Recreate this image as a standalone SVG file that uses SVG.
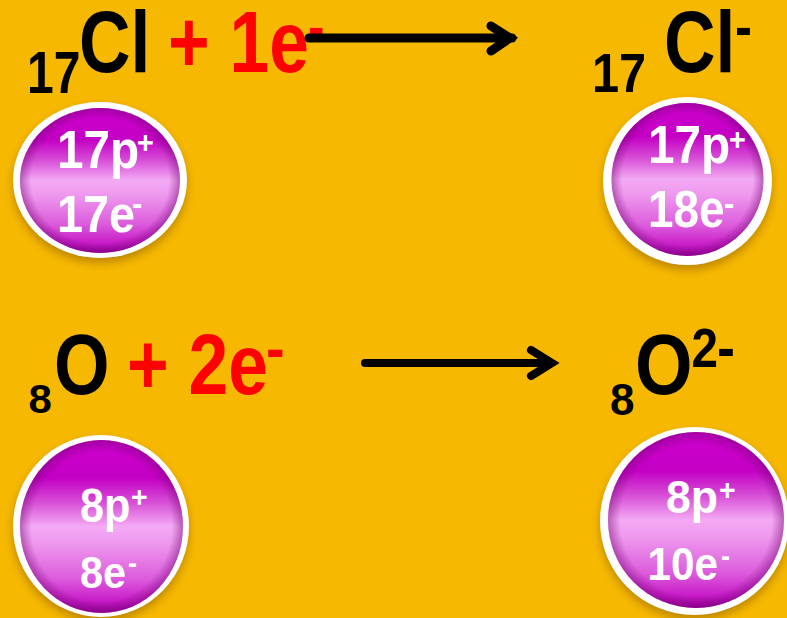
<svg xmlns="http://www.w3.org/2000/svg" width="787" height="618" viewBox="0 0 787 618">
<defs>
<style>
.t{font-family:"Liberation Sans",Arial,sans-serif;font-weight:bold}
.k{fill:#000}
.r{fill:#ff0000}
.w{fill:#fff}
.ring{fill:#fff}
.ball{fill:url(#mag)}
.vig{fill:url(#edge)}
.sh{fill:#7a4e00;opacity:0.45;filter:url(#blur)}
.arr{stroke:#000;fill:none;stroke-linecap:round;stroke-linejoin:miter}
</style>
<linearGradient id="mag" x1="0" y1="0" x2="0" y2="1">
<stop offset="0" stop-color="#cc00cc"/>
<stop offset="0.22" stop-color="#c400c4"/>
<stop offset="0.36" stop-color="#d64ed6"/>
<stop offset="0.5" stop-color="#f4aaf4"/>
<stop offset="0.6" stop-color="#ee98ee"/>
<stop offset="0.8" stop-color="#dc5cdc"/>
<stop offset="0.93" stop-color="#c81cc8"/>
<stop offset="1" stop-color="#a000a0"/>
</linearGradient>
<radialGradient id="edge" cx="0.5" cy="0.5" r="0.5">
<stop offset="0" stop-color="#700070" stop-opacity="0"/>
<stop offset="0.86" stop-color="#700070" stop-opacity="0"/>
<stop offset="1" stop-color="#700070" stop-opacity="0.45"/>
</radialGradient>
<filter id="blur" x="-20%" y="-20%" width="140%" height="140%">
<feGaussianBlur stdDeviation="4"/>
</filter>
</defs>
<rect width="787" height="618" fill="#f6b800"/>

<g id="cl-atom-label" class="t">
<text class="k" font-size="60" transform="translate(27,93) scale(0.8,1)">17</text>
<text class="k" font-size="87" transform="translate(79,72) scale(0.82,1)">Cl</text>
<text class="r" font-size="87" transform="translate(168,72) scale(0.82,1)">+ 1e</text>
<text class="r" font-size="60" transform="translate(308,47) scale(0.82,1)">-</text>
</g>

<g id="cl-ion-label" class="t">
<text class="k" font-size="56" transform="translate(592,92) scale(0.87,1)">17</text>
<text class="k" font-size="87" transform="translate(664,72) scale(0.82,1)">Cl</text>
<text class="k" font-size="60" transform="translate(735,47) scale(0.85,1)">-</text>
</g>

<g id="o-atom-label" class="t">
<text class="k" font-size="40" transform="translate(28.5,413) scale(1.05,1)">8</text>
<text class="k" font-size="85" transform="translate(54,394) scale(0.84,1)">O</text>
<text class="r" font-size="85" transform="translate(127,394) scale(0.84,1)">+ 2e</text>
<text class="r" font-size="62" transform="translate(266,369) scale(0.9,1)">-</text>
</g>

<g id="o-ion-label" class="t">
<text class="k" font-size="44" transform="translate(610,415) scale(1.0,1)">8</text>
<text class="k" font-size="85" transform="translate(635,394) scale(0.87,1)">O</text>
<text class="k" font-size="56" transform="translate(691.5,367) scale(0.85,1)">2</text>
<text class="k" font-size="60" transform="translate(717,368) scale(0.9,1)">-</text>
</g>

<g id="cl-atom">
<ellipse class="sh" cx="100" cy="185" rx="87" ry="78"/>
<ellipse class="ring" cx="100" cy="180" rx="87" ry="78"/>
<ellipse class="ball" cx="100" cy="180.5" rx="80" ry="72.5"/>
<ellipse class="vig" cx="100" cy="180.5" rx="80" ry="72.5"/>
<g class="t w">
<text font-size="53" transform="translate(57,168) scale(0.9,1)">17p</text>
<text font-size="32" transform="translate(137,153) scale(0.9,1)">+</text>
<text font-size="52" transform="translate(57,232) scale(0.9,1)">17e</text>
<text font-size="34" transform="translate(132,215) scale(0.9,1)">-</text>
</g>
</g>

<g id="cl-ion">
<ellipse class="sh" cx="687.5" cy="186" rx="84.5" ry="84"/>
<ellipse class="ring" cx="687.5" cy="181" rx="84.5" ry="84"/>
<ellipse class="ball" cx="687.5" cy="179.5" rx="76" ry="76.5"/>
<ellipse class="vig" cx="687.5" cy="179.5" rx="76" ry="76.5"/>
<g class="t w">
<text font-size="53" transform="translate(648,163) scale(0.9,1)">17p</text>
<text font-size="32" transform="translate(729,150) scale(0.9,1)">+</text>
<text font-size="51" transform="translate(648,227) scale(0.9,1)">18e</text>
<text font-size="34" transform="translate(724,215) scale(0.9,1)">-</text>
</g>
</g>

<g id="o-atom">
<ellipse class="sh" cx="101" cy="531" rx="88" ry="91"/>
<ellipse class="ring" cx="101" cy="526" rx="88" ry="91"/>
<ellipse class="ball" cx="101.5" cy="526.5" rx="81.5" ry="86.5"/>
<ellipse class="vig" cx="101.5" cy="526.5" rx="81.5" ry="86.5"/>
<g class="t w">
<text font-size="48" transform="translate(80,522) scale(0.9,1)">8p</text>
<text font-size="30" transform="translate(131,507) scale(0.95,1)">+</text>
<text font-size="45" transform="translate(80,588) scale(0.92,1)">8e</text>
<text font-size="30" transform="translate(128,573) scale(0.9,1)">-</text>
</g>
</g>

<g id="o-ion">
<ellipse class="sh" cx="694.5" cy="526" rx="94.5" ry="94"/>
<ellipse class="ring" cx="694.5" cy="521" rx="94.5" ry="94"/>
<ellipse class="ball" cx="696" cy="520" rx="88" ry="88"/>
<ellipse class="vig" cx="696" cy="520" rx="88" ry="88"/>
<g class="t w">
<text font-size="47" transform="translate(666,513) scale(0.95,1)">8p</text>
<text font-size="30" transform="translate(719,500) scale(0.95,1)">+</text>
<text font-size="47" transform="translate(647.5,580) scale(0.9,1)">10e</text>
<text font-size="30" transform="translate(721,566) scale(0.9,1)">-</text>
</g>
</g>

<g id="connectors">
<line class="arr" x1="309" y1="38" x2="512" y2="38" stroke-width="9" stroke-linecap="butt"/>
<polyline class="arr" points="491,26 510,38 491,51" stroke-width="9"/>
<line class="arr" x1="365" y1="363" x2="550" y2="363" stroke-width="8" stroke-linecap="butt"/>
<polyline class="arr" points="531,350 552,363 531,376" stroke-width="8"/>
</g>
</svg>
